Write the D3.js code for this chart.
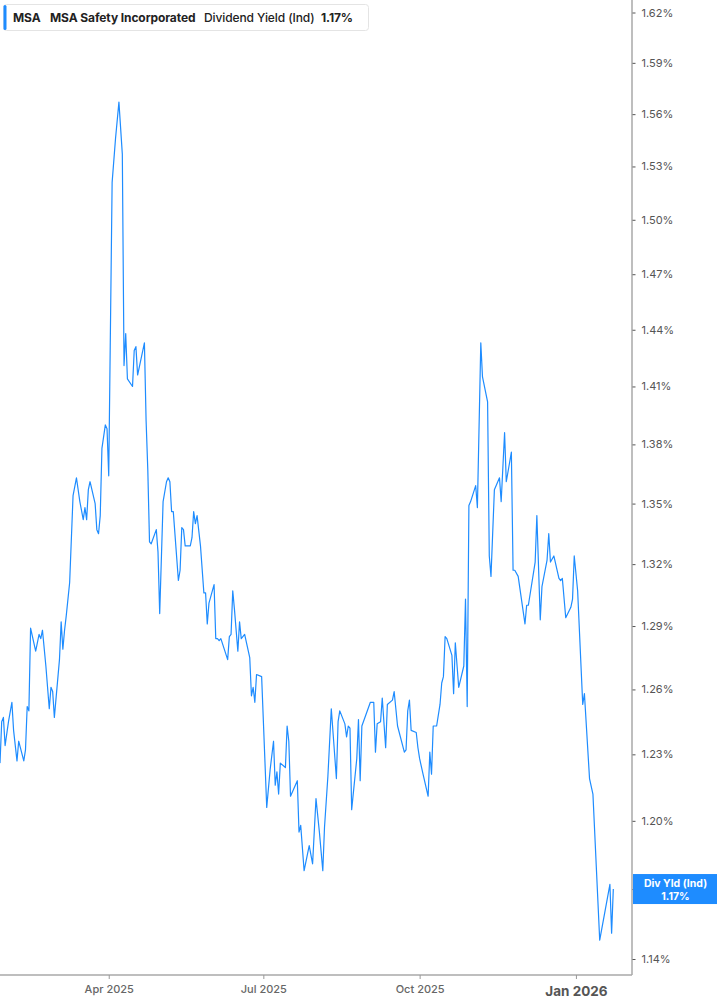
<!DOCTYPE html>
<html>
<head>
<meta charset="utf-8">
<script src="https://cdn.jsdelivr.net/npm/d3@7"></script>
<style>
  html, body { margin: 0; padding: 0; background: #fff; }
  svg { display: block; font-family: Inter, "Noto Sans", sans-serif; }
</style>
</head>
<body>
<div id="chart"></div>
<script>
// MSA dividend yield (indicated), %
var dates = [
  "2025-01-27","2025-01-28","2025-01-29","2025-01-30","2025-02-01","2025-02-03","2025-02-04","2025-02-06",
  "2025-02-07","2025-02-10","2025-02-11","2025-02-12","2025-02-13","2025-02-14","2025-02-17","2025-02-19",
  "2025-02-20","2025-02-21","2025-02-23","2025-02-25","2025-02-26","2025-02-27","2025-02-28","2025-03-03",
  "2025-03-04","2025-03-05","2025-03-06","2025-03-07","2025-03-09","2025-03-11","2025-03-13","2025-03-15",
  "2025-03-17","2025-03-18","2025-03-19","2025-03-20","2025-03-21","2025-03-24","2025-03-25","2025-03-26",
  "2025-03-27","2025-03-28","2025-03-30","2025-03-31","2025-04-01","2025-04-03","2025-04-05","2025-04-07",
  "2025-04-09","2025-04-10","2025-04-11","2025-04-12","2025-04-15","2025-04-16","2025-04-17","2025-04-18",
  "2025-04-22","2025-04-23","2025-04-24","2025-04-25","2025-04-26","2025-04-29","2025-04-30","2025-05-01",
  "2025-05-03","2025-05-05","2025-05-06","2025-05-07","2025-05-08","2025-05-09","2025-05-12","2025-05-13",
  "2025-05-14","2025-05-15","2025-05-16","2025-05-19","2025-05-20","2025-05-21","2025-05-22","2025-05-23",
  "2025-05-25","2025-05-27","2025-05-28","2025-05-29","2025-05-30","2025-06-02","2025-06-03","2025-06-04",
  "2025-06-05","2025-06-06","2025-06-10","2025-06-11","2025-06-12","2025-06-13","2025-06-14","2025-06-16",
  "2025-06-17","2025-06-18","2025-06-20","2025-06-23","2025-06-24","2025-06-25","2025-06-26","2025-06-27",
  "2025-06-30","2025-07-03","2025-07-05","2025-07-07","2025-07-08","2025-07-09","2025-07-10","2025-07-11",
  "2025-07-14","2025-07-15","2025-07-16","2025-07-17","2025-07-21","2025-07-22","2025-07-23","2025-07-25",
  "2025-07-28","2025-07-30","2025-08-01","2025-08-03","2025-08-05","2025-08-06","2025-08-08","2025-08-10",
  "2025-08-13","2025-08-14","2025-08-15","2025-08-18","2025-08-19","2025-08-20","2025-08-21","2025-08-22",
  "2025-08-25","2025-08-26","2025-08-27","2025-08-28","2025-09-02","2025-09-04","2025-09-05","2025-09-06",
  "2025-09-08","2025-09-09","2025-09-11","2025-09-12","2025-09-15","2025-09-16","2025-09-18","2025-09-22",
  "2025-09-23","2025-09-24","2025-09-25","2025-09-26","2025-09-29","2025-09-30","2025-10-01","2025-10-03",
  "2025-10-06","2025-10-07","2025-10-08","2025-10-09","2025-10-11","2025-10-13","2025-10-14","2025-10-15",
  "2025-10-16","2025-10-17","2025-10-20","2025-10-21","2025-10-22","2025-10-24","2025-10-27","2025-10-28",
  "2025-10-29","2025-10-30","2025-10-31","2025-11-03","2025-11-04","2025-11-06","2025-11-07","2025-11-10",
  "2025-11-11","2025-11-12","2025-11-14","2025-11-17","2025-11-18","2025-11-20","2025-11-21","2025-11-24",
  "2025-11-25","2025-11-26","2025-11-28","2025-12-02","2025-12-03","2025-12-04","2025-12-08","2025-12-09",
  "2025-12-11","2025-12-12","2025-12-15","2025-12-16","2025-12-17","2025-12-19","2025-12-22","2025-12-23",
  "2025-12-24","2025-12-26","2025-12-29","2025-12-30","2025-12-31","2026-01-02","2026-01-05","2026-01-06",
  "2026-01-09","2026-01-11","2026-01-15","2026-01-21","2026-01-22","2026-01-23"
];

var yields = [
  1.226,1.245,1.247,1.234,1.245,1.254,1.241,1.227,
  1.236,1.227,1.232,1.252,1.250,1.289,1.278,1.286,
  1.284,1.288,1.271,1.251,1.261,1.259,1.247,1.274,
  1.292,1.279,1.288,1.295,1.311,1.354,1.363,1.351,
  1.342,1.348,1.342,1.357,1.361,1.350,1.337,1.335,
  1.344,1.378,1.390,1.388,1.364,1.521,1.546,1.567,
  1.537,1.421,1.438,1.414,1.410,1.429,1.431,1.416,
  1.433,1.392,1.367,1.331,1.330,1.337,1.326,1.296,
  1.351,1.361,1.363,1.361,1.346,1.346,1.312,1.317,
  1.338,1.337,1.329,1.329,1.333,1.346,1.340,1.344,
  1.329,1.306,1.306,1.291,1.301,1.310,1.284,1.284,
  1.283,1.284,1.274,1.285,1.286,1.307,1.298,1.278,
  1.292,1.284,1.286,1.275,1.257,1.261,1.254,1.267,
  1.266,1.206,1.223,1.236,1.216,1.222,1.212,1.226,
  1.224,1.243,1.236,1.211,1.218,1.195,1.198,1.178,
  1.189,1.181,1.210,1.195,1.178,1.197,1.220,1.251,
  1.219,1.245,1.250,1.244,1.238,1.243,1.242,1.205,
  1.228,1.246,1.218,1.243,1.254,1.254,1.231,1.244,
  1.245,1.256,1.233,1.253,1.255,1.259,1.243,1.231,
  1.232,1.250,1.255,1.241,1.240,1.233,1.228,1.221,
  1.211,1.231,1.221,1.243,1.243,1.253,1.263,1.266,
  1.285,1.284,1.276,1.258,1.282,1.261,1.271,1.303,
  1.252,1.349,1.351,1.359,1.348,1.433,1.415,1.402,
  1.324,1.314,1.357,1.363,1.351,1.386,1.361,1.376,
  1.317,1.317,1.314,1.291,1.300,1.300,1.321,1.344,
  1.293,1.309,1.322,1.335,1.321,1.324,1.313,1.312,
  1.313,1.294,1.299,1.303,1.324,1.307,1.253,1.258,
  1.219,1.212,1.148,1.172,1.151,1.170
];

var yTicks = [1.14, 1.17, 1.20, 1.23, 1.26, 1.29, 1.32, 1.35, 1.38, 1.41, 1.44, 1.47, 1.50, 1.53, 1.56, 1.59, 1.62];
var xTicks = ["2025-04-01", "2025-07-01", "2025-10-01", "2026-01-01"];
var xDomain = ["2025-01-27", "2026-02-03"];
var legendItems = ["MSA", "MSA Safety Incorporated", "Dividend Yield (Ind)"];
var seriesLabel = "Div Yld (Ind)";

var width = 717,
  height = 1005,
  plotRight = 632,
  plotBottom = 975,
  blue = "#1e8cff",
  parse = d3.timeParse("%Y-%m-%d"),
  pct = d3.format(".2f");

var data = dates.map(function (d, i) { return { date: parse(d), value: yields[i] }; });
var last = data[data.length - 1];

var x = d3.scaleTime()
  .domain(xDomain.map(parse))
  .range([0, plotRight]);

var y = d3.scaleLog()
  .domain([1.14, 1.62])
  .range([959, 12.5]);

var svg = d3.select("#chart").append("svg")
  .attr("width", width)
  .attr("height", height);

// frame: right and bottom lines
svg.append("line")
  .attr("x1", plotRight).attr("x2", plotRight)
  .attr("y1", 0).attr("y2", plotBottom)
  .style("stroke", "#a8a8a8").style("stroke-width", 1.5);
svg.append("line")
  .attr("x1", 0).attr("x2", plotRight)
  .attr("y1", plotBottom).attr("y2", plotBottom)
  .style("stroke", "#a8a8a8").style("stroke-width", 1.5);

// right axis
var tagY = y(last.value);
var yAxis = svg.append("g")
  .attr("transform", "translate(" + (plotRight + 0.5) + ",0)")
  .call(d3.axisRight(y)
    .tickValues(yTicks)
    .tickSize(3)
    .tickPadding(6)
    .tickFormat(function (d) { return pct(d) + "%"; }));
yAxis.select(".domain").remove();
yAxis.selectAll("line").style("stroke", "#555");
yAxis.selectAll("text")
  .style("font-size", "11px")
  .style("fill", "#555")
  .style("font-family", "Inter, sans-serif");
// labels under the last-value tag are covered by it
yAxis.selectAll(".tick")
  .filter(function (d) { return Math.abs(y(d) - tagY) < 20; })
  .select("text").remove();

// bottom axis
var xAxis = svg.append("g")
  .attr("transform", "translate(0," + plotBottom + ")")
  .call(d3.axisBottom(x)
    .tickValues(xTicks.map(parse))
    .tickSize(4)
    .tickPadding(6)
    .tickFormat(d3.timeFormat("%b %Y")));
xAxis.select(".domain").remove();
xAxis.selectAll("line").style("stroke", "#999");
xAxis.selectAll("text")
  .style("font-size", "11px")
  .style("font-weight", 500)
  .style("fill", "#666")
  .style("font-family", "Inter, sans-serif")
  .filter(function (d) { return d.getMonth() === 0; })
  .style("font-size", "13.5px")
  .style("font-weight", 700)
  .style("fill", "#555")
  .attr("dy", "0.85em");

// line
var line = d3.line()
  .x(function (d) { return x(d.date); })
  .y(function (d) { return y(d.value); });

svg.append("path")
  .datum(data)
  .attr("d", line)
  .style("fill", "none")
  .style("stroke", blue)
  .style("stroke-width", 1.2)
  .style("stroke-linejoin", "round");

// last value tag on the axis
var tag = svg.append("g")
  .attr("transform", "translate(" + (plotRight + 1) + "," + tagY + ")");
tag.append("rect")
  .attr("x", 0).attr("y", -15)
  .attr("width", width - plotRight).attr("height", 30)
  .style("fill", blue);
tag.append("text")
  .attr("x", (width - plotRight) / 2).attr("y", -2.5)
  .attr("text-anchor", "middle")
  .style("fill", "#fff").style("font-size", "10.5px").style("font-weight", 700)
  .text(seriesLabel);
tag.append("text")
  .attr("x", (width - plotRight) / 2).attr("y", 10.5)
  .attr("text-anchor", "middle")
  .style("fill", "#fff").style("font-size", "10.5px").style("font-weight", 700)
  .text(pct(last.value) + "%");

// legend box
var legend = svg.append("g");
legend.append("rect")
  .attr("x", 3.5).attr("y", 4.5)
  .attr("width", 365).attr("height", 26)
  .attr("rx", 3)
  .style("fill", "#fff")
  .style("stroke", "#e4e4e4");
legend.append("rect")
  .attr("x", 3.5).attr("y", 5)
  .attr("width", 3).attr("height", 25)
  .attr("rx", 1.5)
  .style("fill", blue);

var legendX = [13, 50, 204, 321];
legend.selectAll("text")
  .data(legendItems.concat([pct(last.value) + "%"]))
  .enter()
  .append("text")
  .attr("x", function (d, i) { return legendX[i]; })
  .attr("y", 22)
  .style("font-size", "12px")
  .style("font-weight", function (d, i) { return i === 2 ? 500 : 700; })
  .style("fill", "#222")
  .style("letter-spacing", "-0.1px")
  .text(function (d) { return d; });
</script>
</body>
</html>
